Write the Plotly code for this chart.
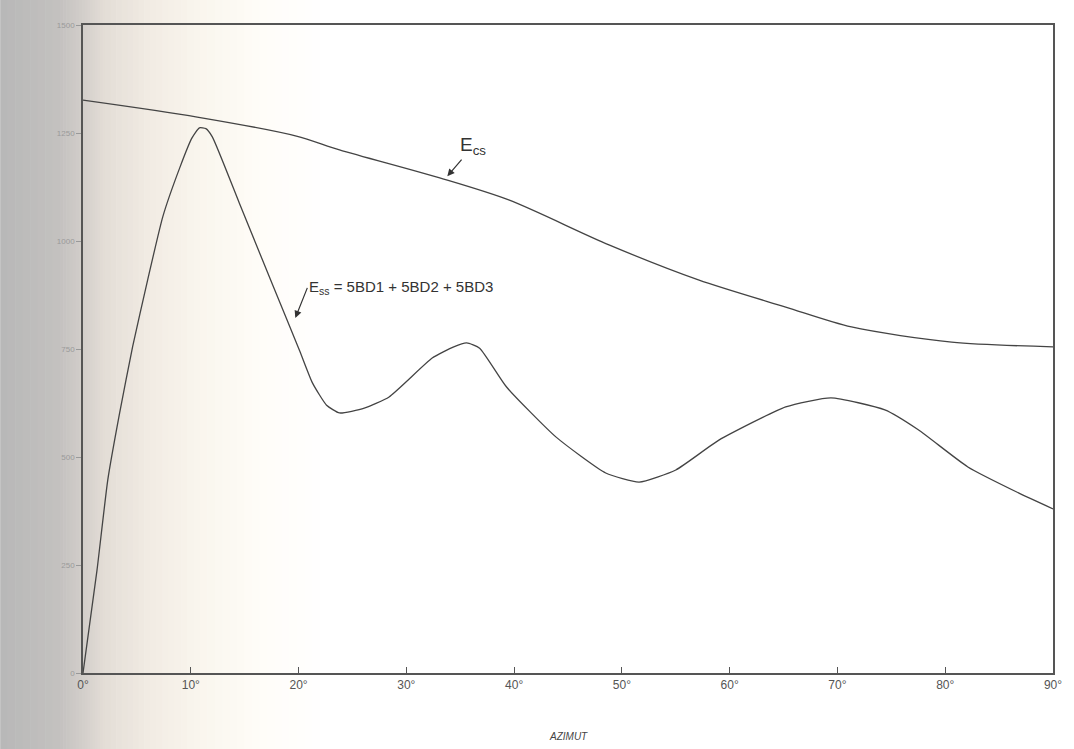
import plotly.graph_objects as go

# azimut (deg) and values
ess_x = [0, 1.3, 2.3, 3.4, 4.6, 6.0, 7.4, 9.0, 10.1, 10.8, 11.4, 12.0, 14.5, 17.6,
         20.1, 21.3, 22.6, 23.8, 26.1, 28.4, 32.4, 34.4, 35.6, 36.8, 39.3, 43.9, 48.5,
         51.6, 55.0, 59.0, 65.2, 69.4, 74.4, 77.5, 82.1, 86.8, 90]
ess_y = [0, 238, 447, 602, 755, 910, 1056, 1171, 1238, 1262, 1260, 1241, 1088, 898,
         746, 671, 620, 602, 613, 639, 729, 755, 764, 752, 662, 546, 463,
         442, 470, 539, 616, 637, 609, 563, 477, 417, 380]

ecs_x = [0, 10.6, 19.8, 23.8, 33.1, 39.5, 48.8, 57.1, 65.2, 71.3, 80.6, 90]
ecs_y = [1326, 1287, 1243, 1211, 1146, 1095, 991, 910, 847, 801, 766, 755]

x_ticks = [0, 10, 20, 30, 40, 50, 60, 70, 80, 90]
x_labels = ["0°", "10°", "20°", "30°", "40°", "50°", "60°", "70°", "80°", "90°"]
y_ticks = [0, 250, 500, 750, 1000, 1250, 1500]

fig = go.Figure()

fig.add_trace(go.Scatter(x=ecs_x, y=ecs_y, mode="lines",
                         line=dict(color="#444", width=1.3, shape="spline", smoothing=0.8),
                         showlegend=False))
fig.add_trace(go.Scatter(x=ess_x, y=ess_y, mode="lines",
                         line=dict(color="#444", width=1.3, shape="spline", smoothing=0.5),
                         showlegend=False))

# scanner shadow on the left edge
shapes = []
stops = [(0, (184, 184, 184)), (60, (196, 194, 192)), (85, (212, 208, 204)),
         (105, (228, 222, 215)), (150, (242, 236, 228)), (200, (250, 246, 238)),
         (260, (255, 253, 248)), (320, (255, 255, 255))]
plot_w = 1055 - 83
for i in range(len(stops) - 1):
    (xa, ca), (xb, cb) = stops[i], stops[i + 1]
    n = 8
    for k in range(n):
        t = (k + 0.5) / n
        c = tuple(int(ca[j] + (cb[j] - ca[j]) * t) for j in range(3))
        x0 = xa + (xb - xa) * k / n
        x1 = xa + (xb - xa) * (k + 1) / n + 0.6
        shapes.append(dict(type="rect", xref="paper", yref="paper",
                           x0=(x0 - 83) / plot_w, x1=(x1 - 83) / plot_w,
                           y0=-0.2, y1=1.1, line_width=0,
                           fillcolor="rgb(%d,%d,%d)" % c, layer="below"))

fig.update_layout(
    width=1074, height=749,
    margin=dict(l=83, r=19, t=25, b=76),
    paper_bgcolor="white",
    plot_bgcolor="rgba(0,0,0,0)",
    shapes=shapes,
    font=dict(family="Liberation Sans", color="#444"),
    xaxis=dict(range=[0, 90], tickvals=x_ticks, ticktext=x_labels,
               ticks="inside", ticklen=6, tickcolor="#555",
               showline=True, mirror=True, linecolor="#555", linewidth=1.5,
               showgrid=False, zeroline=False,
               tickfont=dict(size=12, color="#555")),
    yaxis=dict(range=[0, 1500], tickvals=y_ticks,
               ticks="outside", ticklen=5, tickcolor="#999",
               showline=True, mirror=True, linecolor="#555", linewidth=1.5,
               showgrid=False, zeroline=False,
               tickfont=dict(size=8, color="#9a9a9a")),
    annotations=[
        dict(x=0.5, y=-0.11, xref="paper", yref="paper", text="<i>AZIMUT</i>",
             showarrow=False, font=dict(size=10, color="#444")),
        dict(x=33.8, y=1150, text="E<sub>cs</sub>", showarrow=True,
             arrowhead=2, arrowsize=1.2, arrowwidth=1.2, arrowcolor="#333",
             ax=26, ay=-30, font=dict(size=19, color="#333")),
        dict(x=19.7, y=822, text="E<sub>ss</sub> = 5BD1 + 5BD2 + 5BD3", showarrow=True,
             arrowhead=2, arrowsize=1.2, arrowwidth=1.2, arrowcolor="#333",
             ax=12, ay=-30, xanchor="left", font=dict(size=15, color="#333")),
    ],
)

fig.write_html("out.html", config={"displayModeBar": False},
               post_script="document.body.style.margin='0';")
